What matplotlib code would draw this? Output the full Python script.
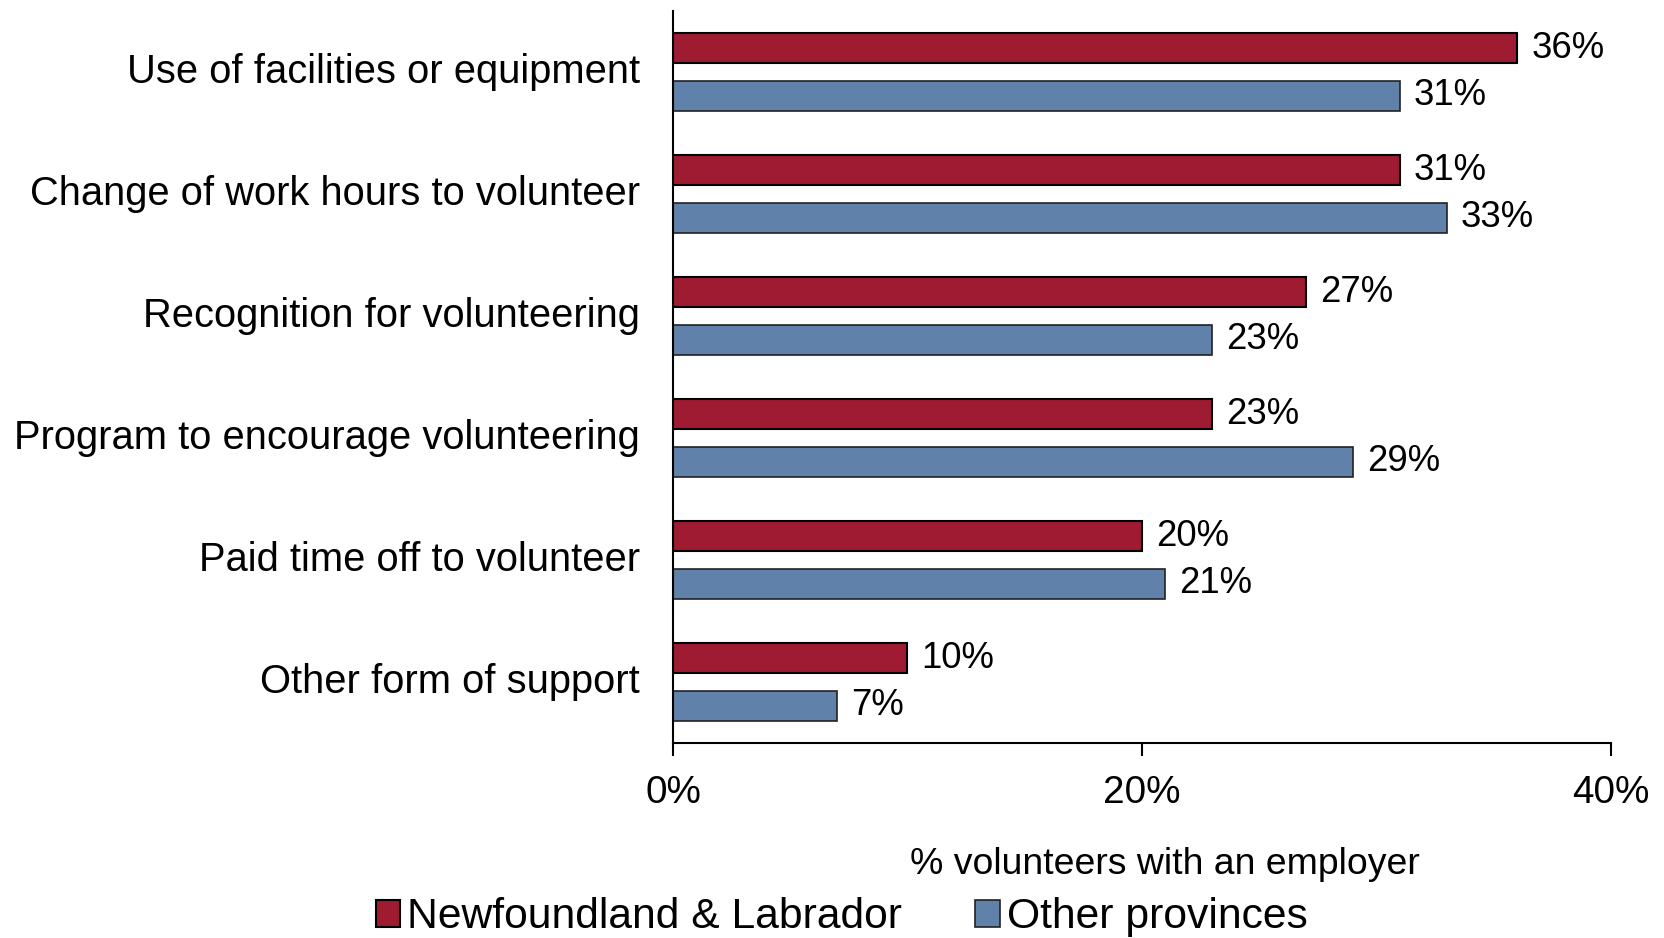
import matplotlib
matplotlib.use("Agg")
import matplotlib.pyplot as plt
import matplotlib.transforms as mtransforms
import numpy as np

categories = ["Use of facilities or equipment", "Change of work hours to volunteer",
              "Recognition for volunteering", "Program to encourage volunteering",
              "Paid time off to volunteer", "Other form of support"]
nl_values = [36, 31, 27, 23, 20, 10]
other_values = [31, 33, 23, 29, 21, 7]
series_names = ["Newfoundland & Labrador", "Other provinces"]
xticks = [0, 20, 40]
xtick_labels = ["0%", "20%", "40%"]
xlabel = "% volunteers with an employer"

plt.rcParams['font.family'] = ['Liberation Sans', 'DejaVu Sans']

fig = plt.figure(figsize=(16.65, 9.38), dpi=100)
ax = fig.add_axes([673/1665, 1-743/938, (1611-673)/1665, (743-11)/938])

y = np.arange(len(categories))
h = 0.245
off = 0.196
red = "#9E1B32"
blue = "#6081A9"
b1 = ax.barh(y - off, nl_values, height=h, color=red, edgecolor="black", linewidth=1.5, label=series_names[0])
b2 = ax.barh(y + off, other_values, height=h, color=blue, edgecolor="#222222", linewidth=1.2, label=series_names[1])

for bars, vals in ((b1, nl_values), (b2, other_values)):
    for r, v in zip(bars, vals):
        ax.annotate(f"{v}%", (r.get_width(), r.get_y() + r.get_height()/2),
                    xytext=(10, 0), textcoords="offset points", va="center", ha="left", fontsize=26.3)

ax.set_ylim(len(categories) - 0.5, -0.5)
ax.set_xlim(0, 40)
ax.set_yticks(y)
ax.set_yticklabels(categories, fontsize=28.7)
ax.tick_params(axis="y", length=0, pad=24)
shift = mtransforms.ScaledTranslation(0, 2.8/72, fig.dpi_scale_trans)
for lab in ax.get_yticklabels():
    lab.set_transform(lab.get_transform() + shift)
ax.set_xticks(xticks)
ax.set_xticklabels(xtick_labels, fontsize=27.8)
ax.tick_params(axis="x", length=9, width=1.5, pad=14, direction="out")
for s in ("top", "right"):
    ax.spines[s].set_visible(False)
ax.spines["left"].set_linewidth(1.5)
ax.spines["bottom"].set_linewidth(1.5)

fig.text(1097*1.0619/1665, 1-814*1.0619/938, xlabel, ha="center", va="center", fontsize=26.9)
fig.legend(handles=[b1, b2], loc="center", bbox_to_anchor=(841.6/1665, 1-864*1.0619/938),
           ncol=2, frameon=False, fontsize=30.7, handlelength=0.58, handleheight=0.58,
           handletextpad=0.17, columnspacing=1.7, borderpad=0)

fig.savefig("out.png", dpi=100)
